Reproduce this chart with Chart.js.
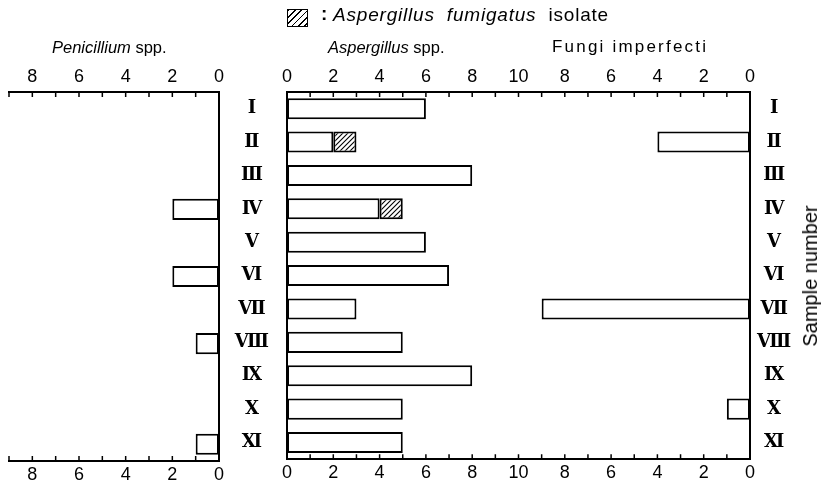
<!DOCTYPE html>
<html><head><meta charset="utf-8">
<script src="https://cdn.jsdelivr.net/npm/chart.js@4"></script>
<style>
html,body{margin:0;padding:0;background:#fff;}
body{width:823px;height:488px;position:relative;overflow:hidden;font-family:"Liberation Sans",Arial,sans-serif;color:#000;}
canvas{position:absolute;top:0;}
.t{position:absolute;white-space:nowrap;line-height:20px;}
</style></head><body>
<canvas id="c1" width="236" height="488" style="left:0"></canvas>
<canvas id="c2" width="602" height="488" style="left:221px"></canvas>
<div class="t" style="left:287px;top:9px;width:19px;height:16px;border:1.5px solid #000;background:repeating-linear-gradient(135deg,#000 0 1.3px,#fff 1.3px 4.5px);"></div>
<div class="t" style="left:321px;top:4px;font-size:19px;font-weight:bold;">:</div>
<div class="t" style="left:333px;top:5px;font-size:19px;letter-spacing:0.8px;word-spacing:6px;"><i>Aspergillus fumigatus</i> isolate</div>
<div class="t" style="left:52px;top:37px;font-size:16.5px;"><i>Penicillium</i> spp.</div>
<div class="t" style="left:328px;top:37px;font-size:16.5px;"><i>Aspergillus</i> spp.</div>
<div class="t" style="left:552px;top:37px;font-size:17px;letter-spacing:2.2px;">Fungi imperfecti</div>
<div class="t" style="left:810px;top:276px;font-size:20px;transform:translate(-50%,-50%) rotate(-90deg);">Sample number</div>
<script>
// ---- data ----
const samples = ['Ⅰ','Ⅱ','Ⅲ','Ⅳ','Ⅴ','Ⅵ','Ⅶ','Ⅷ','Ⅸ','Ⅹ','Ⅺ'];
const penicillium = [null, null, null, 2, null, 2, null, 1, null, null, 1];
const aspergillusOther = [6, 2, 8, 4, 6, 7, 3, 5, 8, 5, 5];
const aspergillusFumigatus = [null, 1, null, 1, null, null, null, null, null, null, null];
const fungiImperfecti = [null, 4, null, null, null, null, 9, null, null, 1, null];
const penicilliumMax = 9;
const aspergillusMax = 10;
const fungiMax = 10;

// hatch pattern
function hatch(){
  const p = document.createElement('canvas'); p.width = 5; p.height = 5;
  const g = p.getContext('2d');
  g.fillStyle = '#fff'; g.fillRect(0,0,5,5);
  g.strokeStyle = '#000'; g.lineWidth = 1.1;
  g.beginPath();
  g.moveTo(-1,6); g.lineTo(6,-1);
  g.moveTo(-1,1); g.lineTo(1,-1);
  g.moveTo(4,6); g.lineTo(6,4);
  g.stroke();
  return g.createPattern(p,'repeat');
}

const tickMarks = {
  id: 'tickMarks',
  afterDraw(chart, args, opts){
    const ctx = chart.ctx, a = chart.chartArea, s = chart.scales[opts.axis];
    ctx.save(); ctx.strokeStyle = '#000'; ctx.lineWidth = 1.5;
    for (let v = s.min; v <= s.max; v++){
      const x = s.getPixelForValue(v);
      ctx.beginPath();
      ctx.moveTo(x, a.top); ctx.lineTo(x, a.top + 5);
      ctx.moveTo(x, a.bottom); ctx.lineTo(x, a.bottom - 5);
      ctx.stroke();
    }
    ctx.restore();
  }
};

const numFont = {family: '"Liberation Sans", Arial, sans-serif', size: 18};
const romanFont = {family: '"DejaVu Serif", "Liberation Serif", serif', size: 18, weight: 'bold'};
const border = {display: true, width: 2, color: '#000'};
const noGrid = {display: false, drawTicks: false};
const barStyle = {backgroundColor: '#fff', borderColor: '#000', borderWidth: 2, borderSkipped: false, barPercentage: 0.63, categoryPercentage: 1};

function xAxis(pos, reverse, max, cb, h, pad){
  return {type: 'linear', position: pos, reverse: reverse, min: 0, max: max, stacked: true,
    grid: noGrid, border: border,
    ticks: {stepSize: 2, includeBounds: false, autoSkip: false, maxRotation: 0, padding: pad, color: '#000', font: numFont, callback: cb},
    afterFit(s){ s.height = h; }};
}

// left chart: Penicillium
new Chart(document.getElementById('c1'), {
  type: 'bar',
  data: {labels: samples, datasets: [Object.assign({data: penicillium}, barStyle)]},
  options: {
    indexAxis: 'y', responsive: false, animation: false,
    layout: {padding: {left: 9, right: 0, top: 0, bottom: 0}},
    plugins: {legend: {display: false}, tooltip: {enabled: false}, tickMarks: {axis: 'x'}},
    scales: {
      x: xAxis('bottom', true, penicilliumMax, v => v, 27, 3),
      x2: xAxis('top', true, penicilliumMax, v => v, 92, 4),
      y: {position: 'right', grid: noGrid, border: border, ticks: {display: false}, afterFit(s){ s.width = 17; }}
    }
  },
  plugins: [tickMarks]
});

// right chart: Aspergillus (0..10 from left) and Fungi imperfecti (0..10 from right)
const total = aspergillusMax + fungiMax;
const mirror = v => (v <= aspergillusMax ? v : total - v);
new Chart(document.getElementById('c2'), {
  type: 'bar',
  data: {labels: samples, datasets: [
    Object.assign({data: aspergillusOther, stack: 'a', xAxisID: 'x'}, barStyle),
    Object.assign({}, barStyle, {data: aspergillusFumigatus, stack: 'a', xAxisID: 'x', backgroundColor: hatch()}),
    Object.assign({data: fungiImperfecti, stack: 'f', xAxisID: 'xr', grouped: false}, barStyle)
  ]},
  options: {
    indexAxis: 'y', responsive: false, animation: false,
    layout: {padding: {left: 0, right: 27, top: 0, bottom: 0}},
    plugins: {legend: {display: false}, tooltip: {enabled: false}, tickMarks: {axis: 'x'}},
    scales: {
      x: xAxis('bottom', false, total, mirror, 27, 3),
      x2: xAxis('top', false, total, mirror, 92, 4),
      xr: {type: 'linear', reverse: true, min: 0, max: total, display: false, stacked: true},
      y: {position: 'left', stacked: true, grid: noGrid, border: border,
          ticks: {crossAlign: 'center', padding: 18, color: '#000', font: romanFont},
          afterFit(s){ s.width = 66; }},
      y2: {type: 'category', labels: samples, position: 'right', grid: noGrid, border: border,
          ticks: {crossAlign: 'center', padding: 7, color: '#000', font: romanFont},
          afterFit(s){ s.width = 46; }}
    }
  },
  plugins: [tickMarks]
});
</script>
</body></html>
